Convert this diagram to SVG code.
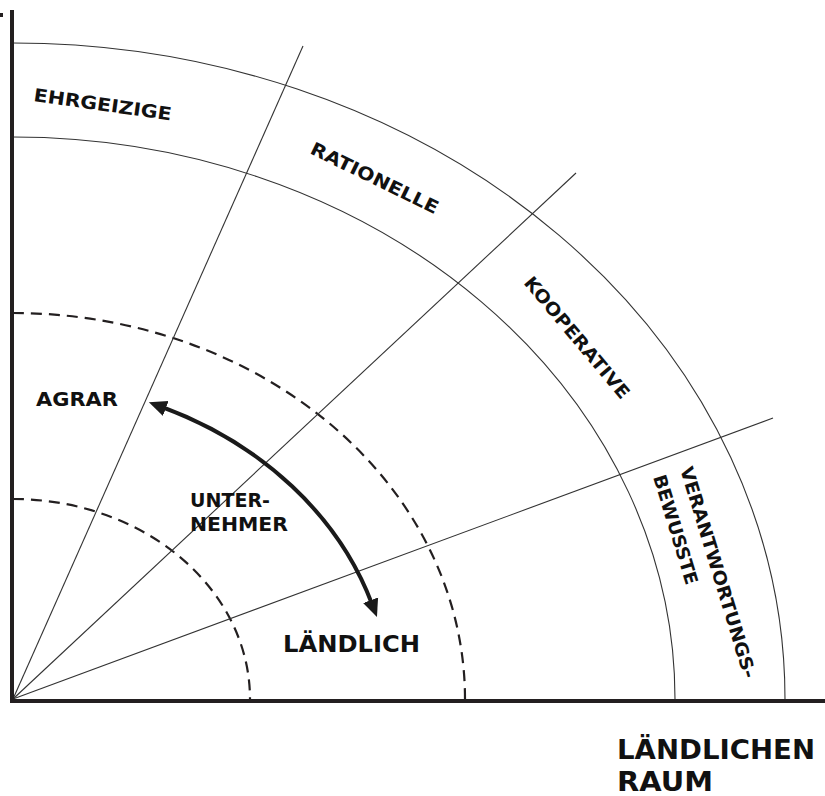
<svg xmlns="http://www.w3.org/2000/svg" width="825" height="796" viewBox="0 0 825 796">
<style>
.t{font-family:"DejaVu Sans","Open Sans",sans-serif;font-weight:700;fill:#111}
.thin{fill:none;stroke:#333;stroke-width:1.1}
.dash{fill:none;stroke:#231f20;stroke-width:2.2;stroke-dasharray:11 7}
.axis{stroke:#231f20;stroke-width:4;fill:none}
.arrow{fill:none;stroke:#1a1a1a;stroke-width:4}
</style>
<defs>
<marker id="ah" markerUnits="userSpaceOnUse" viewBox="0 -10 20 20" refX="4" refY="0" markerWidth="20" markerHeight="20" orient="auto-start-reverse"><path d="M0,-8 L18,0 L0,8 z" fill="#1a1a1a"/></marker>
</defs>
<rect width="825" height="796" fill="#fff"/>
<g id="rings">
<path class="dash" d="M13 499 A237 200 0 0 1 250 699"/>
<path class="dash" d="M13 313 A452 386 0 0 1 465 699"/>
<path class="thin" d="M13 137 A662 562 0 0 1 675 699"/>
<path class="thin" d="M13 43 A772 656 0 0 1 785 699"/>
</g>
<g id="connectors">
<path class="thin" d="M13 699 L303 46"/>
<path class="thin" d="M13 699 L576 173"/>
<path class="thin" d="M13 699 L773 418"/>
<path class="arrow" d="M162 407 A380 322 0 0 1 372 604" marker-start="url(#ah)" marker-end="url(#ah)"/>
</g>
<g id="axes">
<path class="axis" d="M12 10 L12 703"/>
<path class="axis" d="M10 701 L825 701"/>
<rect x="0" y="13" width="3" height="4" fill="#231f20"/>
</g>
<g id="ehrgeizige"><text class="t" font-size="18" transform="translate(33 101) rotate(8)" textLength="139" lengthAdjust="spacingAndGlyphs">EHRGEIZIGE</text></g>
<g id="rationelle"><text class="t" font-size="18" transform="translate(309 153) rotate(26)" textLength="140" lengthAdjust="spacingAndGlyphs">RATIONELLE</text></g>
<g id="kooperative"><text class="t" font-size="18" transform="translate(523 283) rotate(50)" textLength="153" lengthAdjust="spacingAndGlyphs">KOOPERATIVE</text></g>
<g id="verantwortungsbewusste">
<text class="t" font-size="18" transform="translate(680 469) rotate(73)" textLength="220" lengthAdjust="spacingAndGlyphs">VERANTWORTUNGS-</text>
<text class="t" font-size="18" transform="translate(653 477) rotate(73)" textLength="114" lengthAdjust="spacingAndGlyphs">BEWUSSTE</text>
</g>
<g id="agrar"><text class="t" font-size="19.5" x="36" y="406" textLength="82" lengthAdjust="spacingAndGlyphs">AGRAR</text></g>
<g id="unternehmer">
<text class="t" font-size="19.5" x="190" y="507" textLength="80" lengthAdjust="spacingAndGlyphs">UNTER-</text>
<text class="t" font-size="19.5" x="190" y="531" textLength="98" lengthAdjust="spacingAndGlyphs">NEHMER</text>
</g>
<g id="laendlich"><text class="t" font-size="23" x="283" y="652" textLength="137" lengthAdjust="spacingAndGlyphs">LÄNDLICH</text></g>
<g id="laendlichen-raum">
<text class="t" font-size="26" x="617" y="759" textLength="198" lengthAdjust="spacingAndGlyphs">LÄNDLICHEN</text>
<text class="t" font-size="26" x="617" y="791" textLength="96" lengthAdjust="spacingAndGlyphs">RAUM</text>
</g>
</svg>
